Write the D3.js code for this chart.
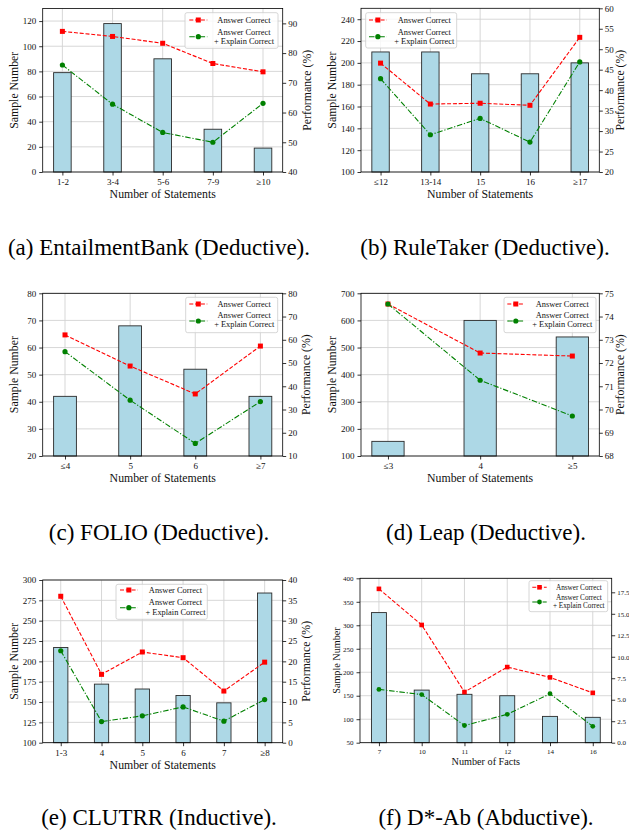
<!DOCTYPE html>
<html>
<head>
<meta charset="utf-8">
<script src="https://cdn.jsdelivr.net/npm/d3@7"></script>
<style>
  html, body { margin: 0; padding: 0; background: #fff; }
  svg { display: block; }
</style>
</head>
<body>
<svg id="chart" width="629" height="834"></svg>
<script>
// ---------------- DATA ----------------
const catsA = ["1-2", "3-4", "5-6", "7-9", "≥10"];
const samplesA = [79, 118, 90, 34, 19];
const ansA = [87.3, 85.6, 83.3, 76.5, 73.7];
const expA = [76.0, 62.8, 53.3, 50.0, 63.1];
const leftTicksA = [0, 20, 40, 60, 80, 100, 120];
const rightTicksA = [40, 50, 60, 70, 80, 90];

const catsB = ["≤12", "13-14", "15", "16", "≥17"];
const samplesB = [210, 210, 190, 190, 200];
const ansB = [46.6, 36.6, 36.8, 36.3, 52.9];
const expB = [42.8, 29.1, 33.1, 27.3, 46.9];
const leftTicksB = [100, 120, 140, 160, 180, 200, 220, 240];
const rightTicksB = [20, 25, 30, 35, 40, 45, 50, 55, 60];

const catsC = ["≤4", "5", "6", "≥7"];
const samplesC = [42, 68, 52, 42];
const ansC = [62.1, 48.7, 36.7, 57.3];
const expC = [54.9, 34.0, 15.4, 33.4];
const leftTicksC = [20, 30, 40, 50, 60, 70, 80];
const rightTicksC = [10, 20, 30, 40, 50, 60, 70, 80];

const catsD = ["≤3", "4", "≥5"];
const samplesD = [154, 600, 539];
const ansD = [74.54, 72.43, 72.30];
const expD = [74.54, 71.26, 69.72];
const leftTicksD = [100, 200, 300, 400, 500, 600, 700];
const rightTicksD = [68, 69, 70, 71, 72, 73, 74, 75];

const catsE = ["1-3", "4", "5", "6", "7", "≥8"];
const samplesE = [217, 172, 166, 158, 149, 284];
const ansE = [36.0, 16.8, 22.3, 20.9, 12.7, 19.8];
const expE = [22.6, 5.2, 6.6, 8.8, 5.3, 10.6];
const leftTicksE = [100, 125, 150, 175, 200, 225, 250, 275, 300];
const rightTicksE = [0, 5, 10, 15, 20, 25, 30, 35, 40];

const catsF = ["7", "10", "11", "12", "14", "16"];
const samplesF = [327, 162, 153, 150, 106, 104];
const ansF = [17.9, 13.7, 5.9, 8.8, 7.6, 5.8];
const expF = [6.2, 5.6, 2.0, 3.3, 5.7, 1.9];
const leftTicksF = [50, 100, 150, 200, 250, 300, 350, 400];
const rightTicksF = [0, 2.5, 5, 7.5, 10, 12.5, 15, 17.5];

const seriesNames = ["Answer Correct", ["Answer Correct", "+ Explain Correct"]];
const captions = ["(a) EntailmentBank (Deductive).", "(b) RuleTaker (Deductive).",
  "(c) FOLIO (Deductive).", "(d) Leap (Deductive).",
  "(e) CLUTRR (Inductive).", "(f) D*-Ab (Abductive)."];

// ---------------- STYLE ----------------
const FONT = "'Liberation Serif', 'Times New Roman', Times, serif";
const BAR_FILL = "#add8e6";
const RED = "#ff0000";
const GREEN = "#008000";
const GRID = "#d3d3d3";

const svg = d3.select("#chart");
svg.append("rect").attr("width", 629).attr("height", 834).attr("fill", "#fff");

function drawPanel(p) {
  const n = p.cats.length;
  const pad = 0.175 + 0.05 * (n - 1 + 0.35);
  const x = d3.scaleLinear().domain([-pad, n - 1 + pad]).range([p.x0, p.x1]);
  const yL = d3.scaleLinear().domain(p.lDom).range([p.y1, p.y0]);
  const yR = d3.scaleLinear().domain(p.rDom).range([p.y1, p.y0]);
  const g = svg.append("g");

  // grid
  g.selectAll(".hg").data(p.lTicks).join("line")
    .attr("x1", p.x0).attr("x2", p.x1)
    .attr("y1", d => yL(d)).attr("y2", d => yL(d))
    .attr("stroke", GRID).attr("stroke-width", 0.9);
  g.selectAll(".vg").data(d3.range(n)).join("line")
    .attr("x1", d => x(d)).attr("x2", d => x(d))
    .attr("y1", p.y0).attr("y2", p.y1)
    .attr("stroke", GRID).attr("stroke-width", 0.9);

  // bars
  const bw = x(0.35) - x(0);
  g.selectAll(".bar").data(p.samples).join("rect")
    .attr("x", (d, i) => x(i) - bw / 2)
    .attr("y", d => yL(d))
    .attr("width", bw)
    .attr("height", d => p.y1 - yL(d))
    .attr("fill", BAR_FILL)
    .attr("stroke", "#2a2a2a").attr("stroke-width", 0.9);

  // lines
  const line = d3.line().x((d, i) => x(i)).y(d => yR(d));
  g.append("path").datum(p.ans).attr("d", line)
    .attr("fill", "none").attr("stroke", RED).attr("stroke-width", 1.1)
    .attr("stroke-dasharray", "4,1.8");
  g.append("path").datum(p.exp).attr("d", line)
    .attr("fill", "none").attr("stroke", GREEN).attr("stroke-width", 1.1)
    .attr("stroke-dasharray", "5.5,1.8,1.2,1.8");
  const ms = p.ms;
  g.selectAll(".sq").data(p.ans).join("rect")
    .attr("x", (d, i) => x(i) - ms / 2).attr("y", d => yR(d) - ms / 2)
    .attr("width", ms).attr("height", ms).attr("fill", RED);
  g.selectAll(".ci").data(p.exp).join("circle")
    .attr("cx", (d, i) => x(i)).attr("cy", d => yR(d))
    .attr("r", ms * 0.52).attr("fill", GREEN);

  // frame
  g.append("rect").attr("x", p.x0).attr("y", p.y0)
    .attr("width", p.x1 - p.x0).attr("height", p.y1 - p.y0)
    .attr("fill", "none").attr("stroke", "#000").attr("stroke-width", 0.8);

  // axes
  function styleAxis(sel) {
    sel.select(".domain").remove();
    sel.selectAll(".tick line").attr("stroke", "#000").attr("stroke-width", 0.8);
    sel.selectAll(".tick text").attr("font-family", FONT).attr("font-size", p.tickSize).attr("fill", "#111");
  }
  g.append("g").attr("transform", `translate(0,${p.y1})`)
    .call(d3.axisBottom(x).tickValues(d3.range(n)).tickFormat(i => p.cats[i]).tickSize(3.5).tickPadding(3))
    .call(styleAxis);
  g.append("g").attr("transform", `translate(${p.x0},0)`)
    .call(d3.axisLeft(yL).tickValues(p.lTicks).tickSize(3.5).tickPadding(3).tickFormat(d3.format("d")))
    .call(styleAxis);
  g.append("g").attr("transform", `translate(${p.x1},0)`)
    .call(d3.axisRight(yR).tickValues(p.rTicks).tickSize(3.5).tickPadding(2).tickFormat(p.rFmt || d3.format("d")))
    .call(styleAxis);

  // axis labels
  const cy = (p.y0 + p.y1) / 2;
  g.append("text").attr("transform", `translate(${p.lLabX},${cy}) rotate(-90)`)
    .attr("text-anchor", "middle").attr("font-family", FONT).attr("font-size", p.labSize)
    .attr("fill", "#111").text("Sample Number");
  if (p.rLabX != null) {
    g.append("text").attr("transform", `translate(${p.rLabX},${cy}) rotate(-90)`)
      .attr("text-anchor", "middle").attr("font-family", FONT).attr("font-size", p.labSize)
      .attr("fill", "#111").text("Performance (%)");
  }
  g.append("text").attr("x", (p.x0 + p.x1) / 2).attr("y", p.xLabY)
    .attr("text-anchor", "middle").attr("font-family", FONT).attr("font-size", p.labSize)
    .attr("fill", "#111").text(p.xlabel);

  // legend
  const L = p.leg;
  g.append("rect").attr("x", L.bx0).attr("y", L.by0)
    .attr("width", L.bx1 - L.bx0).attr("height", L.by1 - L.by0)
    .attr("rx", 2).attr("fill", "#fff").attr("fill-opacity", 0.8)
    .attr("stroke", "#cccccc").attr("stroke-width", 0.8);
  const hm = (L.hx0 + L.hx1) / 2;
  g.append("line").attr("x1", L.hx0).attr("x2", L.hx1).attr("y1", L.r1).attr("y2", L.r1)
    .attr("stroke", RED).attr("stroke-width", 1.1).attr("stroke-dasharray", "4,1.8");
  g.append("rect").attr("x", hm - ms / 2).attr("y", L.r1 - ms / 2).attr("width", ms).attr("height", ms).attr("fill", RED);
  g.append("line").attr("x1", L.hx0).attr("x2", L.hx1).attr("y1", L.rh).attr("y2", L.rh)
    .attr("stroke", GREEN).attr("stroke-width", 1.1).attr("stroke-dasharray", "5.5,1.8,1.2,1.8");
  g.append("circle").attr("cx", hm).attr("cy", L.rh).attr("r", ms * 0.52).attr("fill", GREEN);
  const lt = (y, s) => g.append("text").attr("x", L.tx).attr("y", y).attr("dy", "0.32em")
    .attr("text-anchor", "middle").attr("font-family", FONT).attr("font-size", p.legSize)
    .attr("fill", "#111").text(s);
  lt(L.r1, seriesNames[0]);
  lt(L.r2a, seriesNames[1][0]);
  lt(L.r2b, seriesNames[1][1]);
}

const big = { tickSize: 9, labSize: 11.8, legSize: 8.4, ms: 5 };

drawPanel(Object.assign({}, big, {
  x0: 42.7, x1: 282.7, y0: 8.5, y1: 172,
  cats: catsA, samples: samplesA, ans: ansA, exp: expA,
  lDom: [0, 130], lTicks: leftTicksA, rDom: [40, 95], rTicks: rightTicksA,
  xlabel: "Number of Statements", lLabX: 17.5, rLabX: 311, xLabY: 197.5,
  leg: { bx0: 185, bx1: 278, by0: 12.7, by1: 48.3, hx0: 189.3, hx1: 207.3, tx: 244, r1: 20, r2a: 32.3, r2b: 41, rh: 36.7 }
}));
drawPanel(Object.assign({}, big, {
  x0: 361, x1: 599.3, y0: 8.3, y1: 172,
  cats: catsB, samples: samplesB, ans: ansB, exp: expB,
  lDom: [100, 250], lTicks: leftTicksB, rDom: [20, 60], rTicks: rightTicksB,
  xlabel: "Number of Statements", lLabX: 335.7, rLabX: 624, xLabY: 197.5,
  leg: { bx0: 365.7, bx1: 456.7, by0: 12.7, by1: 48, hx0: 369, hx1: 386.7, tx: 424.3, r1: 20, r2a: 32.3, r2b: 41, rh: 36.7 }
}));
drawPanel(Object.assign({}, big, {
  x0: 42.7, x1: 282.7, y0: 293.3, y1: 456,
  cats: catsC, samples: samplesC, ans: ansC, exp: expC,
  lDom: [20, 80], lTicks: leftTicksC, rDom: [10, 80], rTicks: rightTicksC,
  xlabel: "Number of Statements", lLabX: 17.5, rLabX: 310, xLabY: 481.7,
  leg: { bx0: 185.7, bx1: 277.7, by0: 297.3, by1: 332.7, hx0: 189.3, hx1: 207.3, tx: 244.2, r1: 304, r2a: 315.7, r2b: 324.7, rh: 321 }
}));
drawPanel(Object.assign({}, big, {
  x0: 361, x1: 599.3, y0: 293.3, y1: 456,
  cats: catsD, samples: samplesD, ans: ansD, exp: expD,
  lDom: [100, 700], lTicks: leftTicksD, rDom: [68, 75], rTicks: rightTicksD,
  xlabel: "Number of Statements", lLabX: 335.7, rLabX: 624, xLabY: 481.7,
  leg: { bx0: 504, bx1: 596, by0: 297.3, by1: 332.7, hx0: 507.3, hx1: 524.3, tx: 562.3, r1: 304, r2a: 315.7, r2b: 324.7, rh: 321 }
}));
drawPanel(Object.assign({}, big, {
  x0: 42.7, x1: 282.7, y0: 580, y1: 742.7,
  cats: catsE, samples: samplesE, ans: ansE, exp: expE,
  lDom: [100, 300], lTicks: leftTicksE, rDom: [0, 40], rTicks: rightTicksE,
  xlabel: "Number of Statements", lLabX: 17.5, rLabX: 310, xLabY: 769,
  leg: { bx0: 116, bx1: 207.3, by0: 584.3, by1: 619.3, hx0: 120, hx1: 137.7, tx: 175.5, r1: 590, r2a: 602.7, r2b: 612, rh: 607.7 }
}));
drawPanel({
  tickSize: 7, labSize: 10.2, legSize: 7.2, ms: 4.6,
  x0: 360, x1: 611.7, y0: 578.3, y1: 742.7,
  cats: catsF, samples: samplesF, ans: ansF, exp: expF,
  lDom: [50, 400], lTicks: leftTicksF, rDom: [0, 19.13], rTicks: rightTicksF, rFmt: d3.format(".1f"),
  xlabel: "Number of Facts", lLabX: 340, rLabX: null, xLabY: 764.5,
  leg: { bx0: 529, bx1: 607.7, by0: 580.7, by1: 611.7, hx0: 532.3, hx1: 546.7, tx: 578.8, r1: 587.3, r2a: 597.7, r2b: 605.3, rh: 602 }
});

// captions
const capPos = [[159, 255], [485, 255], [159, 540], [486, 540], [159, 825], [486, 825]];
captions.forEach((c, i) => {
  svg.append("text").attr("x", capPos[i][0]).attr("y", capPos[i][1])
    .attr("text-anchor", "middle").attr("font-family", FONT).attr("font-size", 23)
    .attr("fill", "#000").text(c);
});
</script>
</body>
</html>
